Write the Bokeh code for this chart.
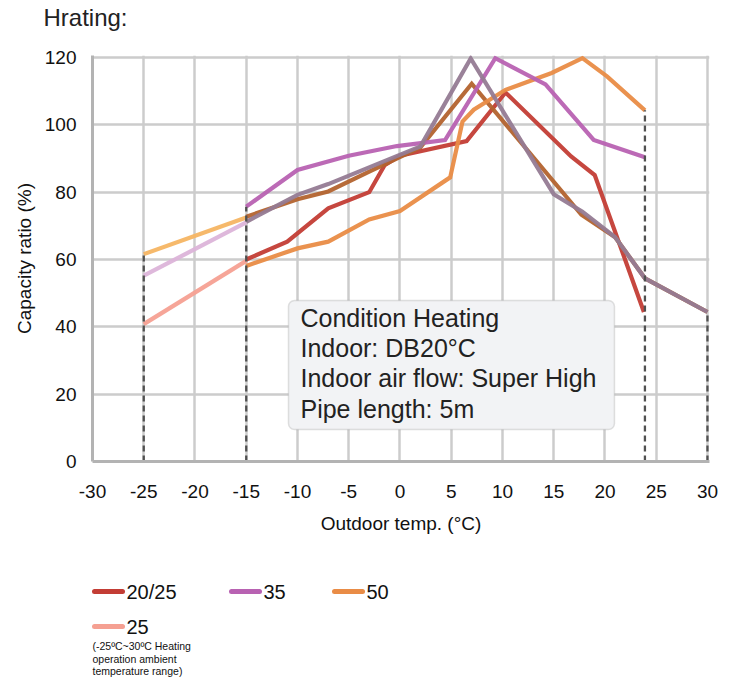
from bokeh.plotting import figure
from bokeh.models import Range1d, FixedTicker, BoxAnnotation, Label, ColumnDataSource
from bokeh.layouts import column
from bokeh.core.properties import value
from bokeh.embed import file_html
from bokeh.resources import INLINE

FONT = "Liberation Sans"

# ---- data ----
t_2025 = [-15, -11, -7, -3, -1.5, 0, 6.5, 10.3, 16.7, 19, 23.8]
cap_2025 = [60, 65.3, 75.2, 80, 88, 90.8, 95.2, 109.6, 90.6, 85.1, 44.4]

t_35 = [-15, -10, -5, -0.3, 4.4, 9.3, 14.2, 18.9, 23.9]
cap_35 = [75.7, 86.6, 90.8, 93.7, 95.5, 119.8, 112, 95.5, 90.4]

t_50 = [-15, -10, -7, -3, 0, 4.9, 6.1, 7.2, 10.3, 14.8, 17.8, 20.2, 23.9]
cap_50 = [58.1, 63.3, 65.3, 71.9, 74.4, 84.4, 101, 104.5, 110.4, 115.4, 119.8, 114.4, 104.3]

t_brown = [-15, -10, -7, -3, 2, 7, 17.7, 21, 23.9, 30]
cap_brown = [72.7, 77.9, 80.2, 86.1, 93.3, 112.2, 73.3, 66.6, 54.4, 44.4]

t_grey = [-15, -10, -7, 2, 6.9, 15, 17.8, 21, 23.9, 30]
cap_grey = [71.2, 79.2, 82.4, 93.6, 119.7, 79.4, 74.2, 66.6, 54.4, 44.4]

t_low = [-25, -15]
cap_low_yellow = [61.6, 72.5]
cap_low_pink = [55.2, 71.0]
cap_low_salmon = [40.8, 59.6]

limit_t = [-25, -15, 23.9, 30]
limit_top = [61.6, 75.7, 104.3, 44.4]

x_ticks = list(range(-30, 31, 5))
y_ticks = list(range(0, 121, 20))

title_text = "Hrating:"
legend_labels = ["20/25", "35", "50", "25"]
note_lines = ["(-25\u00baC~30\u00baC Heating", "operation ambient", "temperature range)"]
box_lines = ["Condition Heating", "Indoor: DB20\u00b0C", "Indoor air flow: Super High", "Pipe length: 5m"]

C_RED = "#c33d35"
C_PURPLE = "#b862b2"
C_ORANGE = "#e98c46"
C_BROWN = "#b3632e"
C_GREY = "#957b93"
C_YELLOW = "#f6b563"
C_PINK = "#dcb4d9"
C_SALMON = "#f5a092"

# ---- page layout (pixels) ----
W = 720
H_TITLE, H_MAIN, H_LEG = 40, 505, 134
PX_L, PX_R30 = 92, 707        # x of -30 and 30
PY_0, PY_120 = 461, 57        # y of 0 and 120 (page)
PX_X = (PX_R30 - PX_L) / 60.0
PX_Y = (PY_0 - PY_120) / 120.0
X0, X1 = -30, 30.2
Y1 = 120 + 2 / PX_Y
FR = PX_L + (X1 - X0) * PX_X
FTOP_PAGE = PY_0 - Y1 * PX_Y


def dx(px):
    return X0 + (px - PX_L) / PX_X


def dy(py):
    return (PY_0 - py) / PX_Y


def blank_fig(h, y_top):
    f = figure(width=W, height=h, x_range=Range1d(0, W), y_range=Range1d(y_top + h, y_top),
               toolbar_location=None, output_backend="svg",
               x_axis_location=None, y_axis_location=None,
               min_border=0, min_border_left=0, min_border_right=0,
               min_border_top=0, min_border_bottom=0)
    f.frame_align = False
    f.outline_line_color = None
    f.grid.visible = False
    return f


# ---- title strip ----
tf = blank_fig(H_TITLE, 0)
tf.text(x=[43], y=[17], text=[title_text], text_baseline="middle", text_align="left",
        text_font=value(FONT), text_font_size=value("24px"), text_color="#222222")

# ---- main plot ----
top_border = int(round(FTOP_PAGE - H_TITLE))
p = figure(width=W, height=H_MAIN, x_range=Range1d(X0, X1), y_range=Range1d(0, Y1),
           toolbar_location=None, output_backend="svg",
           min_border_left=PX_L, min_border_right=int(round(W - FR)),
           min_border_top=top_border, min_border_bottom=H_TITLE + H_MAIN - PY_0)
p.outline_line_color = None
p.background_fill_color = "white"

for ax in (p.xaxis, p.yaxis):
    ax.major_tick_line_color = None
    ax.minor_tick_line_color = None
    ax.major_tick_out = 0
    ax.major_tick_in = 0
    ax.minor_tick_out = 0
    ax.axis_line_color = "#b3b3b3"
    ax.axis_line_width = 3
    ax.major_label_text_font = FONT
    ax.major_label_text_font_size = "19px"
    ax.major_label_text_color = "#111111"
    ax.axis_label_text_font = FONT
    ax.axis_label_text_font_size = "19px"
    ax.axis_label_text_font_style = "normal"
    ax.axis_label_text_color = "#111111"

p.xaxis.ticker = FixedTicker(ticks=x_ticks)
p.yaxis.ticker = FixedTicker(ticks=y_ticks)
p.xaxis.major_label_overrides = {t: str(t) for t in x_ticks}
p.yaxis.major_label_overrides = {t: str(t) for t in y_ticks}
p.xaxis.axis_label = "Outdoor temp. (\u00b0C)"
p.yaxis.axis_label = "Capacity ratio (%)"
p.xaxis.major_label_standoff = 23
p.yaxis.major_label_standoff = 16
p.xaxis.axis_label_standoff = 12
p.yaxis.axis_label_standoff = 7

p.xgrid.ticker = FixedTicker(ticks=x_ticks)
p.ygrid.ticker = FixedTicker(ticks=y_ticks)
p.grid.grid_line_color = "#cccccc"
p.grid.grid_line_width = 2.5

LW = 4.2
series = [
    (t_low, cap_low_yellow, C_YELLOW),
    (t_low, cap_low_pink, C_PINK),
    (t_low, cap_low_salmon, C_SALMON),
    (t_2025, cap_2025, C_RED),
    (t_brown, cap_brown, C_BROWN),
    (t_50, cap_50, C_ORANGE),
    (t_35, cap_35, C_PURPLE),
    (t_grey, cap_grey, C_GREY),
]
for xs, ys, c in series:
    p.line(xs, ys, line_color=c, line_width=LW, line_alpha=0.95, line_join="miter")

lim_src = ColumnDataSource(dict(x=limit_t, y0=[0] * len(limit_t), y1=limit_top))
p.segment(x0="x", y0="y0", x1="x", y1="y1", source=lim_src,
          line_color="#505050", line_width=2.3, line_dash="6 4")

box = BoxAnnotation(left=dx(288), right=dx(614), bottom=dy(429), top=dy(300),
                    fill_color="#f2f3f5", fill_alpha=1.0,
                    line_color="#9a9a9a", line_width=1.5, border_radius=6)
p.add_layout(box)

box_mid_px = [317.7, 347.5, 377.5, 408.5]
for txt, py in zip(box_lines, box_mid_px):
    p.add_layout(Label(x=dx(300), y=dy(py), text=txt, text_font=FONT, text_font_size="25px",
                       text_color="#222222", text_baseline="middle", text_align="left"))

# ---- legend strip ----
LEG_TOP = H_TITLE + H_MAIN
lf = blank_fig(H_LEG, LEG_TOP)
leg_colors = [C_RED, C_PURPLE, C_ORANGE, C_SALMON]
leg_x0 = [94, 231, 334, 94]
leg_y = [591, 591, 591, 626]
leg_src = ColumnDataSource(dict(
    x0=leg_x0, x1=[v + 28 for v in leg_x0], y=leg_y,
    tx=[v + 32 for v in leg_x0], label=legend_labels, color=leg_colors))
lf.segment(x0="x0", y0="y", x1="x1", y1="y", source=leg_src,
           line_color="color", line_width=5, line_cap="round")
lf.text(x="tx", y="y", text="label", source=leg_src, text_baseline="middle",
        text_align="left", text_font=value(FONT), text_font_size=value("20px"),
        text_color="#111111")

note_src = ColumnDataSource(dict(x=[92] * len(note_lines), y=[645, 658, 670], text=note_lines))
lf.text(x="x", y="y", text="text", source=note_src, text_baseline="middle",
        text_align="left", text_font=value(FONT), text_font_size=value("10.5px"),
        text_color="#111111")

layout = column(tf, p, lf, spacing=0)
open("out.html", "w").write(file_html(layout, INLINE))
